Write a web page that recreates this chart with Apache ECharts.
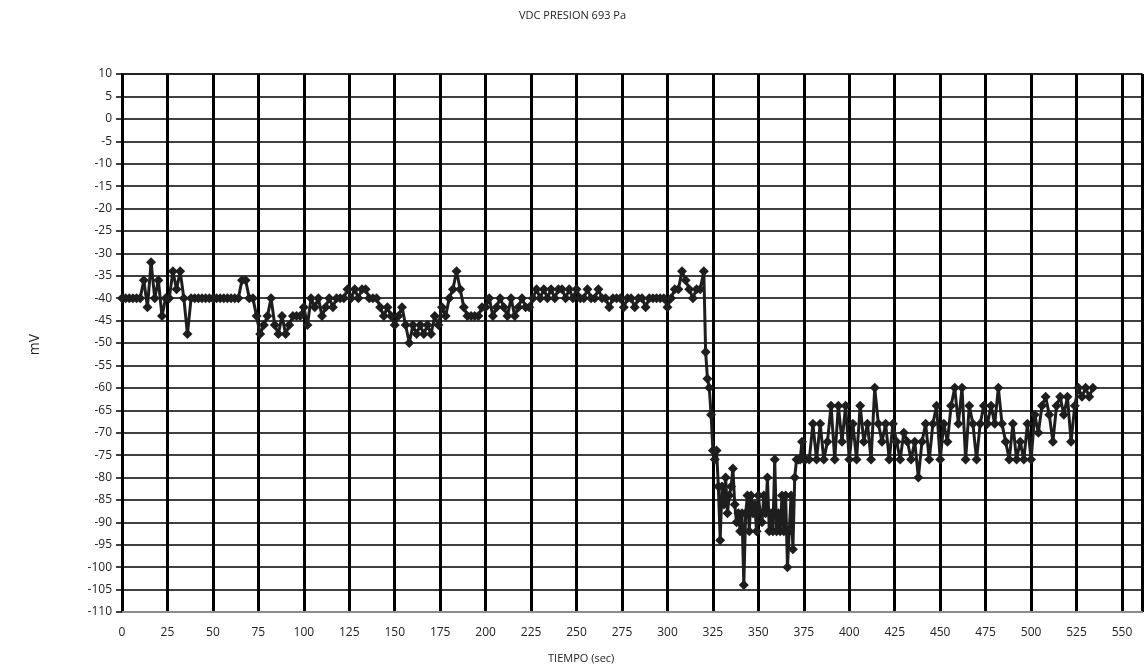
<!DOCTYPE html>
<html>
<head>
<meta charset="utf-8">
<script src="https://cdn.jsdelivr.net/npm/echarts@6/dist/echarts.min.js"></script>
<style>
  html, body { margin: 0; padding: 0; background: #fff; }
  #chart { width: 1145px; height: 669px; }
</style>
</head>
<body>
<div id="chart"></div>
<script>
// lecturas [tiempo (s), mV]
const tramoEstable = [
  [0,-40],[2,-40],[4,-40],[6,-40],[8,-40],[10,-40],[12,-36],[14,-42],[16,-32],[18,-40],
  [20,-36],[22,-44],[24,-40],[26,-40],[28,-34],[30,-38],[32,-34],[34,-40],[36,-48],[38,-40],
  [40,-40],[42,-40],[44,-40],[46,-40],[48,-40],[50,-40],[52,-40],[54,-40],[56,-40],[58,-40],
  [60,-40],[62,-40],[64,-40],[66,-36],[68,-36],[70,-40],[72,-40],[74,-44],[76,-48],[78,-46],
  [80,-44],[82,-40],[84,-46],[86,-48],[88,-44],[90,-48],[92,-46],[94,-44],[96,-44],[98,-44],
  [100,-42],[102,-46],[104,-40],[106,-42],[108,-40],[110,-44],[112,-42],[114,-40],[116,-42],[118,-40],
  [120,-40],[122,-40],[124,-38],[126,-40],[128,-38],[130,-40],[132,-38],[134,-38],[136,-40],[138,-40],
  [140,-40],[142,-42],[144,-44],[146,-42],[148,-44],[150,-46],[152,-44],[154,-42],[156,-46],[158,-50],
  [160,-46],[162,-48],[164,-46],[166,-48],[168,-46],[170,-48],[172,-44],[174,-46],[176,-42],[178,-44],
  [180,-40],[182,-38],[184,-34],[186,-38],[188,-42],[190,-44],[192,-44],[194,-44],[196,-44],[198,-42],
  [200,-42],[202,-40],[204,-44],[206,-42],[208,-40],[210,-42],[212,-44],[214,-40],[216,-44],[218,-42],
  [220,-40],[222,-42],[224,-42],[226,-40],[228,-38],[230,-40],[232,-38],[234,-40],[236,-38],[238,-40],
  [240,-38],[242,-38],[244,-40],[246,-38],[248,-40],[250,-38],[252,-40],[254,-40],[256,-38],[258,-40],
  [260,-40],[262,-38],[264,-40],[266,-40],[268,-42],[270,-40],[272,-40],[274,-40],[276,-42],[278,-40],
  [280,-40],[282,-42],[284,-40],[286,-40],[288,-42],[290,-40],[292,-40],[294,-40],[296,-40],[298,-40],
  [300,-42],[302,-40],[304,-38],[306,-38],[308,-34],[310,-36],[312,-38],[314,-40],[316,-38],[318,-38]
];
const tramoCaida = [
  [320,-34],[321,-52],[322,-58],[323,-60],[324,-66],[325,-74],[326,-76],[327,-74],[328,-82],[329,-94],
  [330,-82],[331,-86],[332,-80],[333,-88],[334,-84],[335,-82],[336,-78],[337,-86],[338,-90],[339,-88],
  [340,-92],[341,-88],[342,-104],[343,-88],[344,-84],[345,-92],[346,-84],[347,-88],[348,-86],[349,-92],
  [350,-84],[351,-88],[352,-90],[353,-84],[354,-88],[355,-80],[356,-92],[357,-88],[358,-92],[359,-76],
  [360,-92],[361,-88],[362,-92],[363,-84],[364,-92],[365,-84],[366,-100],[367,-92],[368,-84],[369,-96],
  [370,-80],[371,-76],[372,-76],[373,-76],[374,-72],[375,-76]
];
const tramoRecuperacion = [
  [376,-76],[378,-76],[380,-68],[382,-76],[384,-68],[386,-76],[388,-72],[390,-64],[392,-76],[394,-64],
  [396,-72],[398,-64],[400,-76],[402,-68],[404,-76],[406,-64],[408,-72],[410,-68],[412,-76],[414,-60],
  [416,-68],[418,-72],[420,-68],[422,-76],[424,-68],[426,-72],[428,-76],[430,-70],[432,-72],[434,-76],
  [436,-72],[438,-80],[440,-72],[442,-68],[444,-76],[446,-68],[448,-64],[450,-76],[452,-68],[454,-72],
  [456,-64],[458,-60],[460,-68],[462,-60],[464,-76],[466,-64],[468,-68],[470,-76],[472,-68],[474,-64],
  [476,-68],[478,-64],[480,-68],[482,-60],[484,-68],[486,-72],[488,-76],[490,-68],[492,-76],[494,-72],
  [496,-76],[498,-68],[500,-76],[502,-66],[504,-70],[506,-64],[508,-62],[510,-66],[512,-72],[514,-64],
  [516,-62],[518,-66],[520,-62],[522,-72],[524,-64],[526,-60],[528,-62],[530,-60],[532,-62],[534,-60]
];
const datos = tramoEstable.concat(tramoCaida, tramoRecuperacion);

const chart = echarts.init(document.getElementById("chart"));
chart.setOption({
  animation: false,
  title: {
    text: "VDC PRESION 693 Pa",
    left: "center",
    top: 5,
    textStyle: { fontFamily: "Open Sans", fontSize: 11, fontWeight: "normal", color: "#222" }
  },
  grid: {
    left: 122, right: 0, top: 74, bottom: 57,
    show: true, borderColor: "#8c8c8c", borderWidth: 2
  },
  xAxis: {
    type: "value",
    min: 0, max: 561, interval: 25,
    axisLine: { onZero: false, lineStyle: { color: "#8c8c8c", width: 2 } },
    axisTick: { show: false },
    axisLabel: {
      color: "#222", fontFamily: "Open Sans", fontSize: 12, margin: 15,
      formatter: (v) => (v % 25 === 0 ? String(v) : "")
    },
    splitLine: { show: true, lineStyle: { color: "#000", width: 3 } }
  },
  yAxis: {
    type: "value",
    min: -110, max: 10, interval: 5,
    axisLine: { show: true, lineStyle: { color: "#000", width: 2 } },
    axisTick: { show: true, length: 6, lineStyle: { color: "#000", width: 1.5 } },
    axisLabel: { color: "#222", fontFamily: "Open Sans", fontSize: 12, margin: 10 },
    splitLine: { show: true, lineStyle: { color: "#000", width: 1.5 } }
  },
  graphic: [
    {
      type: "text", left: 28, top: 334, rotation: Math.PI / 2,
      style: { text: "mV", font: "14px 'Open Sans'", fill: "#222" }
    },
    {
      type: "text", left: 548, top: 653,
      style: { text: "TIEMPO (sec)", font: "11px 'Open Sans'", fill: "#222" }
    }
  ],
  series: [{
    type: "line",
    data: datos,
    symbol: "diamond",
    symbolSize: 10,
    showAllSymbol: true,
    itemStyle: { color: "#1e1e1e" },
    lineStyle: { color: "#1e1e1e", width: 3 }
  }]
});
</script>
</body>
</html>
